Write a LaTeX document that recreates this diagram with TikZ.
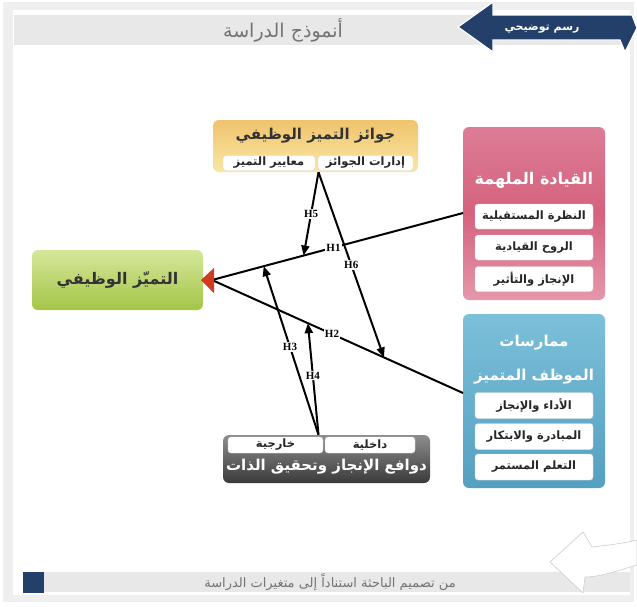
\documentclass[tikz,border=0pt]{standalone}
\usepackage{fontspec}
\usepackage{xcolor}
\usetikzlibrary{positioning,arrows.meta}
\TeXXeTstate=1
\setmainfont{Liberation Serif}
\newfontfamily\arabicfont[Script=Arabic]{DejaVu Sans}

\definecolor{framegray}{HTML}{EFEFEF}
\definecolor{bandgray}{HTML}{E8E8E8}
\definecolor{navy}{HTML}{23406A}
\definecolor{tipred}{HTML}{D23C1E}
\definecolor{grtop}{HTML}{D6E79A}
\definecolor{grbot}{HTML}{A3C548}
\definecolor{awtop}{HTML}{F0C36E}
\definecolor{awbot}{HTML}{F9E7A3}
\definecolor{ldtop}{HTML}{DC7C95}
\definecolor{ldmid}{HTML}{D5627E}
\definecolor{ldbot}{HTML}{E597AB}
\definecolor{prtop}{HTML}{7CC0DA}
\definecolor{prbot}{HTML}{559FC0}
\definecolor{mvtop}{HTML}{8E8E8E}
\definecolor{mvbot}{HTML}{3A3A3A}

\begin{document}
\begin{tikzpicture}[x=1pt,y=-1pt,
  every node/.style={font=\small},
  box/.style={rounded corners=6pt,inner sep=0pt},
  sub/.style={fill=white,draw=black!15,rounded corners=3pt,inner sep=0pt,
    font=\arabicfont\bfseries\fontsize{11.5}{13}\selectfont,text=black!85},
  ttl/.style={font=\arabicfont\bfseries\fontsize{15}{17}\selectfont},
  hyp/.style={-{Triangle[length=10pt,width=8pt]},line width=2pt},
  lbl/.style={fill=white,inner sep=1pt,font=\bfseries\fontsize{11}{12}\selectfont}
]
  \useasboundingbox (0,0) rectangle (637,606);
  \fill[framegray] (3,2) rectangle (634,602);
  \fill[white] (13,10) rectangle (630,595);
  \fill[bandgray] (14,15) rectangle (630,45);
  \fill[bandgray] (23,572) rectangle (630,592);
  \fill[navy] (23,572) rectangle (44,593);
  \filldraw[draw=black!20,fill=white,line width=0.6pt] (550,562) -- (583,532) -- (592,547)
    .. controls (610,545) and (625,543) .. (637,540) -- (637,565)
    .. controls (620,570) and (600,577) .. (585,577) -- (583,593) -- cycle;
  \filldraw[fill=navy,draw=white,line width=1.2pt] (458,27) -- (493,2) -- (493,15) -- (632,15)
    -- (637,28) -- (625,52) -- (620,40) -- (493,40) -- (493,52) -- cycle;

  \node[font=\arabicfont\fontsize{19}{21}\selectfont,text=black!55] (title) at (283,30) {\beginR أنموذج الدراسة\endR};
  \node[font=\arabicfont\bfseries\fontsize{11}{13}\selectfont,text=white] (tag) at (542,29) {\beginR رسم توضيحي\endR};
  \node[font=\arabicfont\fontsize{13}{15}\selectfont,text=black!55] (source) at (330,582) {\beginR من تصميم الباحثة استناداً إلى متغيرات الدراسة\endR};

  \node[box,minimum width=171pt,minimum height=60pt,top color=grtop,bottom color=grbot,ttl,text=black!80,
    font=\arabicfont\bfseries\fontsize{16}{18}\selectfont] (excel) at (117.5,280) {\beginR التميّز الوظيفي\endR};

  \node[box,minimum width=205pt,minimum height=52pt,top color=awtop,bottom color=awbot] (awards) at (315.5,146) {};
  \node[ttl,text=black!80] (awt) at (315.5,136) {\beginR جوائز التميز الوظيفي\endR};
  \node[sub,minimum width=92pt,minimum height=15pt] (aw1) at (269,163) {\beginR معايير التميز\endR};
  \node[sub,minimum width=95pt,minimum height=15pt] (aw2) at (365.5,163) {\beginR إدارات الجوائز\endR};

  \node[box,minimum width=142pt,minimum height=173pt,top color=ldtop,bottom color=ldbot,middle color=ldmid] (lead) at (534,213.5) {};
  \node[ttl,text=white,font=\arabicfont\bfseries\fontsize{16}{18}\selectfont] (leadt) at (534,180) {\beginR القيادة الملهمة\endR};
  \node[sub,minimum width=118pt,minimum height=25pt] (ld1) at (534,216.5) {\beginR النظرة المستقبلية\endR};
  \node[sub,minimum width=118pt,minimum height=25pt] (ld2) at (534,247.5) {\beginR الروح القيادية\endR};
  \node[sub,minimum width=118pt,minimum height=25pt] (ld3) at (534,279) {\beginR الإنجاز والتأثير\endR};

  \node[box,minimum width=142pt,minimum height=174pt,top color=prtop,bottom color=prbot] (prac) at (534,401) {};
  \node[ttl,text=white] (pract1) at (534,343) {\beginR ممارسات\endR};
  \node[ttl,text=white] (pract2) at (534,377) {\beginR الموظف المتميز\endR};
  \node[sub,minimum width=118pt,minimum height=26pt] (pr1) at (534,405.5) {\beginR الأداء والإنجاز\endR};
  \node[sub,minimum width=118pt,minimum height=26pt] (pr2) at (534,436.5) {\beginR المبادرة والابتكار\endR};
  \node[sub,minimum width=118pt,minimum height=26pt] (pr3) at (534,467) {\beginR التعلم المستمر\endR};

  \node[box,minimum width=207pt,minimum height=48pt,top color=mvtop,bottom color=mvbot] (motiv) at (326.5,459) {};
  \node[sub,minimum width=95pt,minimum height=16pt] (mv1) at (275.5,445) {\beginR خارجية\endR};
  \node[sub,minimum width=90pt,minimum height=16pt] (mv2) at (370,445) {\beginR داخلية\endR};
  \node[ttl,text=white] (motivt) at (326.5,467) {\beginR دوافع الإنجاز وتحقيق الذات\endR};

  \coordinate (h1a) at (463,213);
  \coordinate (h2a) at (463,393);
  \coordinate (conv) at (212,280);
  \draw[line width=2pt] (h1a) -- (conv) coordinate[pos=0.635] (p5) coordinate[pos=0.794] (p3)
    node[lbl,pos=0.516] {H1};
  \draw[line width=2pt] (h2a) -- (conv) coordinate[pos=0.315] (p6) coordinate[pos=0.618] (p4)
    node[lbl,pos=0.522] {H2};
  \fill[tipred] (214,268) -- (201,280) -- (214,293) -- cycle;

  \draw[hyp] ([xshift=3pt]awards.south) -- node[lbl] {H5} (p5);
  \draw[hyp] ([xshift=3pt]awards.south) -- node[lbl,pos=0.5] {H6} (p6);
  \draw[hyp] ([xshift=-8pt]motiv.north) -- node[lbl,pos=0.52] {H3} (p3);
  \draw[hyp] ([xshift=-8pt]motiv.north) -- node[lbl,pos=0.53] {H4} (p4);
\end{tikzpicture}
\end{document}
